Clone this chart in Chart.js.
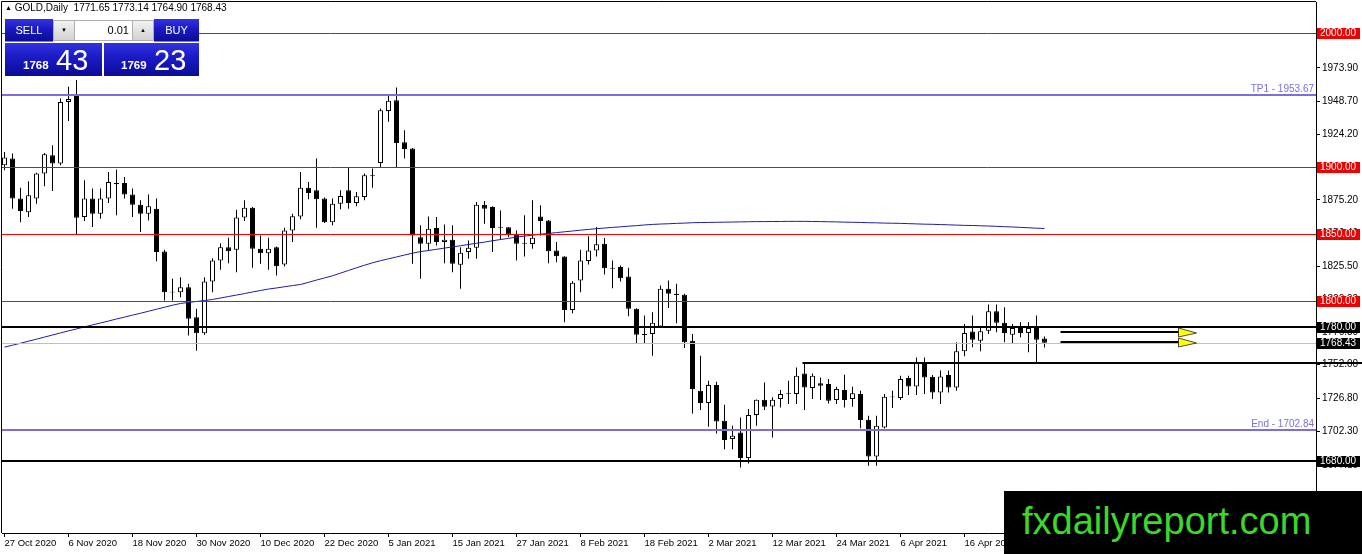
<!DOCTYPE html>
<html>
<head>
<meta charset="utf-8">
<title>GOLD, Daily</title>
<script src="https://cdn.jsdelivr.net/npm/chart.js@4.4.0/dist/chart.umd.min.js"></script>
<style>
  html, body { margin: 0; padding: 0; background: #fff; overflow: hidden; }
  #wrap { position: relative; width: 1362px; height: 554px; font-family: 'Liberation Sans', Arial, sans-serif; }
  #chart { position: absolute; left: 0; top: 0; }
  #title { position: absolute; left: 5px; top: 2px; font-size: 10px; color: #000; white-space: pre; }
  #title .tri { font-size: 7px; position: relative; top: -1px; }
  .blue { position: absolute; background: linear-gradient(to bottom, #3232e2 0%, #1a1ac4 45%, #0c0c96 100%); color: #fff; }
  .top-btn { height: 23px; font-size: 11px; line-height: 22px; text-align: center; box-sizing: border-box; border-bottom: 1px solid #7a7af2; }
  #sellTop { left: 5px; top: 19px; width: 48px; }
  #buyTop { left: 154px; top: 19px; width: 45px; }
  #spin { position: absolute; left: 53px; top: 20px; width: 101px; height: 21px; background: #fff; border: 1px solid #b0b0b0; box-sizing: border-box; }
  .sbtn { position: absolute; top: 0; width: 20px; height: 19px; background: linear-gradient(#f2f2f2, #d2d2d2); font-size: 6px; line-height: 19px; text-align: center; color: #000; }
  #dn { left: 0; border-right: 1px solid #b0b0b0; }
  #up { right: 0; border-left: 1px solid #b0b0b0; }
  #lot { position: absolute; left: 21px; width: 54px; top: 0; height: 19px; line-height: 19px; text-align: right; font-size: 11px; color: #000; }
  .price { top: 43px; height: 33px; }
  #sellPrice { left: 5px; width: 97px; }
  #buyPrice { left: 104px; width: 95px; }
  .price .small { position: absolute; bottom: 5px; font-size: 11.5px; font-weight: bold; }
  .price .big { position: absolute; bottom: 1px; font-size: 29px; line-height: 29px; }
  #mark { position: absolute; left: 1004px; top: 491px; width: 358px; height: 63px; background: #000; color: #3bd82a;
          font-size: 38px; line-height: 60px; padding-left: 18px; box-sizing: border-box; }
</style>
</head>
<body>
<div id="wrap">
  <canvas id="chart" width="1362" height="554"></canvas>
  <div id="title"><span class="tri">▲</span> GOLD,Daily  1771.65 1773.14 1764.90 1768.43</div>
  <div id="sellTop" class="blue top-btn">SELL</div>
  <div id="spin"><div id="dn" class="sbtn">▼</div><div id="lot">0.01</div><div id="up" class="sbtn">▲</div></div>
  <div id="buyTop" class="blue top-btn">BUY</div>
  <div id="sellPrice" class="blue price"><span class="small" style="left:18px">1768</span><span class="big" style="left:51px">43</span></div>
  <div id="buyPrice" class="blue price"><span class="small" style="left:17px">1769</span><span class="big" style="left:50px">23</span></div>
  <div id="mark">fxdailyreport.com</div>
</div>
<script>
// Daily candles, 27 Oct 2020 .. 30 Apr 2021 (one entry per bar)
const opens = [
  1901.1, 1906.1, 1876.2, 1866.1, 1876.2, 1894.9, 1908.6, 1902.4, 1948.5, 1953.6,
  1862.4, 1876.2, 1864.9, 1876.2, 1887.9, 1887.9, 1879.2, 1871.7, 1864.9, 1868.7,
  1836.7, 1806.6, 1806.2, 1809.9, 1787.5, 1775.5, 1814.2, 1829.9, 1839.9, 1838.0,
  1862.0, 1869.4, 1838.7, 1835.4, 1839.9, 1827.0, 1852.4, 1862.9, 1884.4, 1882.4,
  1876.2, 1858.6, 1872.4, 1882.4, 1872.9, 1877.4, 1893.6, 1902.8, 1941.8, 1949.8,
  1918.4, 1913.6, 1847.4, 1842.5, 1854.2, 1843.7, 1845.5, 1826.7, 1836.2, 1839.5,
  1871.7, 1869.9, 1854.2, 1854.7, 1849.9, 1842.9, 1842.2, 1862.9, 1859.9, 1837.5,
  1832.9, 1793.0, 1815.0, 1829.5, 1837.5, 1842.5, 1824.5, 1825.0, 1818.0, 1793.8,
  1775.0, 1775.0, 1780.5, 1808.8, 1805.0, 1804.3, 1770.0, 1732.6, 1723.4, 1736.9,
  1710.1, 1696.4, 1701.4, 1682.2, 1714.4, 1725.8, 1720.8, 1726.4, 1730.1, 1730.1,
  1745.5, 1734.6, 1738.1, 1737.6, 1725.6, 1733.1, 1726.4, 1730.1, 1710.9, 1683.4,
  1705.1, 1727.6, 1727.1, 1742.1, 1735.8, 1753.3, 1743.1, 1731.3, 1744.3, 1735.0,
  1762.0, 1776.8, 1770.0, 1777.5, 1792.0, 1783.3, 1774.5, 1779.5, 1775.8, 1779.5,
  1771.65
];
const highs = [
  1911.1, 1909.9, 1884.4, 1889.1, 1895.5, 1910.3, 1916.1, 1951.1, 1959.8, 1964.8,
  1889.9, 1883.7, 1883.7, 1896.1, 1897.9, 1892.4, 1883.7, 1874.9, 1879.2, 1876.2,
  1838.0, 1816.3, 1817.5, 1812.5, 1793.8, 1817.5, 1831.7, 1842.9, 1846.9, 1867.9,
  1874.9, 1869.9, 1848.7, 1846.9, 1840.4, 1854.5, 1864.9, 1896.1, 1888.6, 1906.1,
  1877.0, 1876.2, 1882.4, 1899.4, 1881.1, 1894.9, 1898.7, 1943.6, 1953.6, 1959.3,
  1927.3, 1914.0, 1856.2, 1862.9, 1862.4, 1856.9, 1856.2, 1839.9, 1844.9, 1873.6,
  1874.4, 1870.4, 1867.4, 1855.0, 1852.4, 1863.7, 1874.9, 1871.2, 1860.2, 1843.7,
  1833.2, 1814.4, 1838.0, 1848.0, 1854.9, 1846.7, 1830.0, 1826.2, 1824.5, 1794.2,
  1788.8, 1791.2, 1811.2, 1815.0, 1812.5, 1805.0, 1775.0, 1758.8, 1740.1, 1739.3,
  1722.1, 1706.4, 1712.6, 1718.9, 1726.0, 1738.8, 1727.6, 1733.1, 1740.0, 1750.0,
  1753.2, 1745.5, 1742.5, 1741.3, 1735.6, 1744.6, 1735.6, 1732.6, 1713.9, 1713.9,
  1730.1, 1732.6, 1743.8, 1743.8, 1757.5, 1757.5, 1744.3, 1747.6, 1747.6, 1768.8,
  1782.5, 1788.8, 1780.5, 1797.0, 1797.0, 1795.0, 1782.5, 1783.7, 1783.7, 1788.8,
  1773.14
];
const lows = [
  1897.4, 1868.7, 1858.6, 1862.4, 1872.4, 1885.4, 1881.9, 1901.1, 1934.3, 1849.4,
  1859.4, 1854.9, 1861.2, 1872.9, 1863.7, 1876.2, 1862.4, 1851.2, 1859.9, 1829.4,
  1800.0, 1800.0, 1802.5, 1773.8, 1762.5, 1774.5, 1806.2, 1823.0, 1827.9, 1821.2,
  1859.4, 1824.5, 1827.5, 1823.0, 1818.7, 1825.5, 1843.7, 1860.7, 1875.7, 1854.5,
  1857.9, 1856.2, 1868.2, 1868.7, 1870.4, 1874.9, 1884.4, 1899.4, 1933.6, 1899.4,
  1906.1, 1827.5, 1816.3, 1837.5, 1841.2, 1827.9, 1821.2, 1808.8, 1831.2, 1831.2,
  1857.5, 1836.2, 1845.5, 1847.4, 1829.9, 1833.0, 1838.7, 1848.7, 1827.9, 1828.7,
  1783.7, 1790.5, 1806.2, 1827.0, 1833.0, 1819.5, 1809.2, 1814.2, 1788.2, 1768.0,
  1767.6, 1758.8, 1780.3, 1794.5, 1783.0, 1764.6, 1715.6, 1718.1, 1705.6, 1700.6,
  1688.9, 1688.9, 1675.1, 1678.1, 1706.4, 1718.1, 1697.6, 1720.1, 1722.6, 1722.6,
  1718.1, 1726.4, 1725.6, 1723.1, 1722.6, 1720.1, 1720.6, 1704.6, 1676.4, 1676.4,
  1704.4, 1719.6, 1725.6, 1729.4, 1729.4, 1730.1, 1726.4, 1722.6, 1731.3, 1732.6,
  1758.3, 1765.0, 1762.0, 1775.0, 1776.2, 1768.8, 1767.6, 1772.5, 1761.3, 1753.8,
  1764.90
];
const closes = [
  1906.9, 1876.2, 1866.9, 1878.7, 1894.9, 1909.4, 1902.4, 1948.5, 1950.6, 1861.9,
  1876.2, 1864.9, 1876.2, 1888.6, 1886.9, 1879.2, 1871.7, 1864.9, 1870.4, 1836.2,
  1806.2, 1806.0, 1809.9, 1786.3, 1775.5, 1814.2, 1829.9, 1839.9, 1836.9, 1862.0,
  1869.4, 1838.7, 1835.4, 1838.7, 1825.7, 1852.4, 1863.1, 1884.4, 1880.4, 1875.7,
  1858.6, 1872.4, 1878.1, 1872.9, 1877.9, 1893.6, 1892.9, 1942.3, 1949.3, 1917.8,
  1913.3, 1848.7, 1842.5, 1853.7, 1843.7, 1845.5, 1827.5, 1835.7, 1839.5, 1871.7,
  1868.7, 1854.2, 1854.8, 1849.4, 1842.5, 1842.2, 1847.0, 1859.4, 1836.9, 1833.2,
  1793.0, 1813.3, 1830.0, 1837.5, 1842.0, 1824.2, 1823.7, 1816.7, 1793.8, 1774.5,
  1774.3, 1783.3, 1808.8, 1805.0, 1804.2, 1768.8, 1733.8, 1723.4, 1736.9, 1709.6,
  1695.7, 1698.9, 1682.2, 1714.4, 1725.8, 1720.6, 1725.8, 1730.1, 1730.7, 1743.8,
  1735.0, 1743.8, 1736.3, 1725.1, 1733.9, 1725.6, 1730.6, 1710.6, 1683.4, 1706.4,
  1728.1, 1728.2, 1741.3, 1735.8, 1753.3, 1742.5, 1731.3, 1743.3, 1735.0, 1762.0,
  1775.8, 1770.6, 1777.0, 1792.0, 1783.3, 1775.8, 1779.5, 1775.8, 1779.5, 1770.6,
  1768.43
];
// moving average, one value per bar
const maValues = [
  1765.2, 1766.6, 1768.1, 1769.6, 1771.1, 1772.7, 1774.2, 1775.8, 1777.3, 1778.8,
  1780.3, 1781.8, 1783.2, 1784.7, 1786.2, 1787.6, 1789.1, 1790.5, 1792.0, 1793.5,
  1795.0, 1796.5, 1797.8, 1798.6, 1799.3, 1800.0, 1800.8, 1801.9, 1803.0, 1804.1,
  1805.2, 1806.4, 1807.5, 1808.6, 1809.4, 1810.3, 1811.2, 1812.0, 1813.6, 1815.3,
  1816.9, 1818.5, 1820.5, 1822.5, 1824.5, 1826.4, 1828.2, 1829.8, 1831.2, 1832.6,
  1834.0, 1835.4, 1836.6, 1837.4, 1838.3, 1839.2, 1840.1, 1841.0, 1841.9, 1842.8,
  1843.7, 1844.7, 1845.6, 1846.5, 1847.4, 1848.2, 1848.9, 1849.6, 1850.2, 1850.8,
  1851.4, 1852.0, 1852.6, 1853.2, 1853.7, 1854.2, 1854.7, 1855.1, 1855.6, 1856.0,
  1856.5, 1856.9, 1857.2, 1857.4, 1857.7, 1857.9, 1858.2, 1858.3, 1858.4, 1858.5,
  1858.6, 1858.7, 1858.8, 1858.9, 1859.0, 1859.0, 1859.1, 1859.1, 1859.2, 1859.2,
  1859.2, 1859.1, 1859.0, 1858.9, 1858.8, 1858.6, 1858.5, 1858.4, 1858.2, 1858.1,
  1857.9, 1857.8, 1857.7, 1857.5, 1857.3, 1857.1, 1857.0, 1856.8, 1856.6, 1856.4,
  1856.2, 1856.1, 1855.9, 1855.7, 1855.5, 1855.2, 1855.0, 1854.7, 1854.4, 1854.1,
  1853.9
];
// date labels, one every 8 bars starting at bar 0
const dateTicks = ['27 Oct 2020', '6 Nov 2020', '18 Nov 2020', '30 Nov 2020', '10 Dec 2020', '22 Dec 2020',
  '5 Jan 2021', '15 Jan 2021', '27 Jan 2021', '8 Feb 2021', '18 Feb 2021', '2 Mar 2021',
  '12 Mar 2021', '24 Mar 2021', '6 Apr 2021', '16 Apr 2021'];
const priceTicks = [1998.70, 1973.90, 1948.70, 1924.20, 1899.70, 1875.20, 1850.40, 1825.50,
  1800.90, 1776.30, 1752.00, 1726.80, 1702.30, 1677.10];

// horizontal levels drawn on the chart
const redLevels = [2000, 1900, 1850, 1800];
const blackLevels = [1780, 1680];
const bidPrice = 1768.43;
const fiboLevels = [1953.67, 1702.84];
const fiboNames = ['TP1 - 1953.67', 'End - 1702.84'];
const rayPrice = 1753.2;
const rayFromBar = 100;
const arrowPrices = [1776.8, 1769.1];
const arrowFromBar = 132;
const arrowToBar = 149;

const FONT = "'Liberation Sans', Arial, sans-serif";

// Build datasets
const bars = opens.map((_, i) => i);
const wickData = bars.map(i => ({ x: i, y: [lows[i], highs[i]] }));
const bodyData = bars.map(i => ({ x: i, y: [opens[i], closes[i]] }));
const bodyColors = bars.map(i => (closes[i] >= opens[i] ? '#ffffff' : '#000000'));
const maData = maValues.map((v, i) => ({ x: i, y: v }));

// Lines, labels and boxes drawn on top, like the terminal objects
const overlayPlugin = {
    id: 'overlays',
    afterDraw(chart) {
        const { ctx, chartArea: area, scales } = chart;
        const xs = scales.x, ys = scales.y;
        const py = v => Math.round(ys.getPixelForValue(v));

        function hline(price, color, width, x0, x1) {
            const yy = py(price) + (width % 2 ? 0.5 : 0);
            ctx.strokeStyle = color;
            ctx.lineWidth = width;
            ctx.beginPath();
            ctx.moveTo(x0, yy);
            ctx.lineTo(x1, yy);
            ctx.stroke();
        }

        function box(price, bg, text) {
            const yc = py(price);
            ctx.fillStyle = bg;
            ctx.fillRect(1317, yc - 5, 43, 11);
            ctx.fillStyle = '#fff';
            ctx.font = '10px ' + FONT;
            ctx.textAlign = 'left';
            ctx.textBaseline = 'middle';
            ctx.fillText(text, 1320, yc + 0.5);
        }

        ctx.save();

        // frame (left and top)
        ctx.strokeStyle = '#000';
        ctx.lineWidth = 1;
        ctx.beginPath();
        ctx.moveTo(area.left - 0.5, area.bottom);
        ctx.lineTo(area.left - 0.5, area.top - 0.5);
        ctx.lineTo(area.right, area.top - 0.5);
        ctx.stroke();

        redLevels.forEach(p => hline(p, '#ff0000', 1, area.left, area.right));

        fiboLevels.forEach((p, k) => {
            hline(p, '#7b6fe0', 2, area.left, area.right);
            ctx.fillStyle = '#7b6fe0';
            ctx.font = '10px ' + FONT;
            ctx.textAlign = 'right';
            ctx.textBaseline = 'bottom';
            ctx.fillText(fiboNames[k], area.right - 2, py(p) - 1);
        });

        hline(bidPrice, '#c0c0c0', 1, area.left, area.right);
        blackLevels.forEach(p => hline(p, '#000', 2, area.left, area.right));
        hline(rayPrice, '#000', 2, xs.getPixelForValue(rayFromBar) - 2, chart.width);

        // arrows to the right of the last bar
        arrowPrices.forEach(p => {
            const x0 = xs.getPixelForValue(arrowFromBar);
            const tip = xs.getPixelForValue(arrowToBar);
            const base = tip - 18;
            const yy = py(p);
            hline(p, '#000', 2, x0, base + 2);
            ctx.fillStyle = '#ffff00';
            ctx.strokeStyle = '#222';
            ctx.lineWidth = 0.8;
            ctx.beginPath();
            ctx.moveTo(base, yy - 4);
            ctx.lineTo(tip, yy + 1);
            ctx.lineTo(base, yy + 5);
            ctx.closePath();
            ctx.fill();
            ctx.stroke();
        });

        // price boxes on the axis
        redLevels.forEach(p => box(p, '#ee0000', p.toFixed(2)));
        blackLevels.forEach(p => box(p, '#000', p.toFixed(2)));
        box(bidPrice, '#000', bidPrice.toFixed(2));

        ctx.restore();
    }
};

new Chart(document.getElementById('chart'), {
    type: 'bar',
    data: {
        datasets: [
            {
                type: 'line',
                data: maData,
                borderColor: '#1c1ca4',
                borderWidth: 1,
                pointRadius: 0,
                tension: 0,
                order: 1
            },
            {
                data: bodyData,
                backgroundColor: bodyColors,
                borderColor: '#000',
                borderWidth: 1,
                borderSkipped: false,
                inflateAmount: 0,
                barThickness: 5,
                grouped: false,
                order: 2
            },
            {
                data: wickData,
                backgroundColor: '#000',
                borderWidth: 0,
                inflateAmount: 0,
                barThickness: 1,
                grouped: false,
                order: 3
            }
        ]
    },
    plugins: [overlayPlugin],
    options: {
        responsive: false,
        animation: false,
        layout: { padding: { left: 2, top: 2, right: 0, bottom: 0 } },
        plugins: {
            legend: { display: false },
            tooltip: { enabled: false }
        },
        scales: {
            x: {
                type: 'linear',
                offset: false,
                min: -0.3125,
                max: 163.9375,
                grid: { drawOnChartArea: false, drawTicks: true, tickLength: 4, color: '#000', offset: false },
                border: { display: true, color: '#000' },
                ticks: {
                    autoSkip: false,
                    maxRotation: 0,
                    minRotation: 0,
                    align: 'start',
                    padding: 1,
                    color: '#000',
                    font: { family: FONT, size: 9.5 },
                    callback: (v, i) => dateTicks[i]
                },
                afterBuildTicks: s => { s.ticks = dateTicks.map((_, k) => ({ value: k * 8 })); },
                afterFit: s => { s.height = 21; s.paddingLeft = 0; s.paddingRight = 0; }
            },
            y: {
                position: 'right',
                min: 1626.2,
                max: 2023.2,
                grid: { drawOnChartArea: false, drawTicks: true, tickLength: 4, color: '#000' },
                border: { display: true, color: '#000' },
                ticks: {
                    padding: 2,
                    color: '#000',
                    font: { family: FONT, size: 10 },
                    callback: v => Number(v).toFixed(2)
                },
                afterBuildTicks: s => { s.ticks = priceTicks.map(v => ({ value: v })); },
                afterFit: s => { s.width = 46; s.paddingTop = 0; s.paddingBottom = 0; }
            }
        }
    }
});
</script>
</body>
</html>
